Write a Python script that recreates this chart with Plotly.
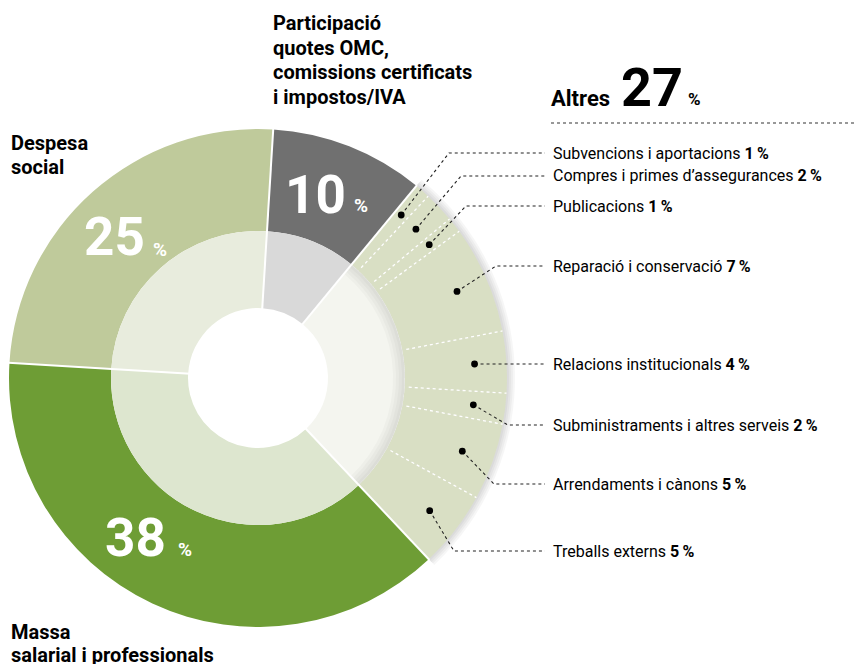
import numpy as np
import plotly.graph_objects as go

# ---------------- data ----------------
main_labels = ["Participació quotes OMC, comissions certificats i impostos/IVA",
               "Altres", "Massa salarial i professionals", "Despesa social"]
main_values = [10, 27, 38, 25]
altres_labels = ["Subvencions i aportacions", "Compres i primes d’assegurances",
                 "Publicacions", "Reparació i conservació", "Relacions institucionals",
                 "Subministraments i altres serveis", "Arrendaments i cànons",
                 "Treballs externs"]
altres_values = [1, 2, 1, 7, 4, 2, 5, 5]

# ---------------- layout / style ----------------
W, H = 854, 664
CX, CY = 258, 378
R_OUT, R_MID, R_HOLE = 249, 147, 70
R_DOT = 217
ROT = 3.5
FONT = "Roboto"

outer_colors = ["#707070", "#d9dfc4", "#6e9d35", "#bfca9b"]
inner_colors = ["#d9d9d9", "#f4f5ef", "#dde6cf", "#e8ecdd"]
CLEAR = "rgba(0,0,0,0)"

label_x = 551
label_y = [153, 176, 206, 266, 364, 425, 484, 551]
elbow_x = [449, 461, 466, 496, None, 508, 494, 454]
line_end_x = 545


def px(x):
    return x / W


def py(y):
    return 1 - y / H


def dom(r):
    return dict(x=[(CX - r) / W, (CX + r) / W], y=[1 - (CY + r) / H, 1 - (CY - r) / H])


def polar(angle_deg, r):
    a = np.deg2rad(angle_deg)
    return CX + r * np.sin(a), CY - r * np.cos(a)


def pie(values, colors, r, hole, name):
    return go.Pie(values=values, labels=[f"{name}{i}" for i in range(len(values))],
                  marker=dict(colors=colors, line=dict(width=0)),
                  domain=dom(r), hole=hole, sort=False, direction="clockwise",
                  rotation=ROT, textinfo="none", hoverinfo="skip", showlegend=False)


fig = go.Figure()

# shadow behind the "Altres" slice
for k, r in enumerate([257, 255, 253, 251]):
    cols = [CLEAR, "rgba(0,0,0,0.035)", CLEAR, CLEAR]
    fig.add_trace(pie(main_values, cols, r, R_MID / r, f"sh{k}_"))

# outer ring: main slices, Altres split into its items
outer_vals = [main_values[0]] + altres_values + main_values[2:]
outer_cols = [outer_colors[0]] + [outer_colors[1]] * len(altres_values) + outer_colors[2:]
fig.add_trace(pie(outer_vals, outer_cols, R_OUT, R_MID / R_OUT, "out"))

# inner ring
fig.add_trace(pie(main_values, inner_colors, R_MID, R_HOLE / R_MID, "in"))

# inner shadow on Altres inner part
for k, d in enumerate([3, 6, 9, 12]):
    cols = [CLEAR, "rgba(0,0,0,0.025)", CLEAR, CLEAR]
    fig.add_trace(pie(main_values, cols, R_MID, (R_MID - d) / R_MID, f"ish{k}_"))

shapes = []
total = sum(main_values)
# main separators (solid white)
cum = np.concatenate([[0], np.cumsum(main_values)[:-1]])
for c in cum:
    ang = ROT + 360 * c / total
    x0, y0 = polar(ang, R_HOLE - 2)
    x1, y1 = polar(ang, R_OUT + 1)
    shapes.append(dict(type="line", xref="paper", yref="paper", x0=px(x0), y0=py(y0),
                       x1=px(x1), y1=py(y1), line=dict(color="white", width=2)))

# Altres sub separators (dotted white)
start_altres = main_values[0]
sub_cum = start_altres + np.cumsum(altres_values)
for c in sub_cum[:-1]:
    ang = ROT + 360 * c / total
    x0, y0 = polar(ang, R_MID + 4)
    x1, y1 = polar(ang, R_OUT)
    shapes.append(dict(type="line", xref="paper", yref="paper", x0=px(x0), y0=py(y0),
                       x1=px(x1), y1=py(y1), line=dict(color="white", width=1.3, dash="dot")))

# dots + leader lines
sub_start = start_altres + np.concatenate([[0], np.cumsum(altres_values)[:-1]])
for i, (s, v) in enumerate(zip(sub_start, altres_values)):
    mid = ROT + 360 * (s + v / 2) / total
    dx, dy = polar(mid, R_DOT)
    ly = label_y[i]
    if elbow_x[i] is None:
        path = f"M{px(dx)},{py(dy)} L{px(line_end_x)},{py(ly)}"
    else:
        path = (f"M{px(dx)},{py(dy)} L{px(elbow_x[i])},{py(ly)} "
                f"L{px(line_end_x)},{py(ly)}")
    shapes.append(dict(type="path", xref="paper", yref="paper", path=path,
                       line=dict(color="#222", width=1.1, dash="dot")))
    rr = 3.4
    shapes.append(dict(type="circle", xref="paper", yref="paper",
                       x0=px(dx - rr), x1=px(dx + rr), y0=py(dy - rr), y1=py(dy + rr),
                       fillcolor="black", line=dict(width=0)))

# dotted rule under "Altres"
shapes.append(dict(type="line", xref="paper", yref="paper", x0=px(551), x1=px(854),
                   y0=py(123), y1=py(123), line=dict(color="#333", width=1.1, dash="dot")))

ann = []


def text(x, y, s, size, color="black", bold=False, xanchor="left", yanchor="middle"):
    ann.append(dict(x=px(x), y=py(y), xref="paper", yref="paper", text=(f"<b>{s}</b>" if bold else s),
                    showarrow=False, xanchor=xanchor, yanchor=yanchor,
                    font=dict(family=FONT, size=size, color=color)))


# big percentages in ring
text(283, 195, f"{main_values[0]}", 53, "white", True)
text(352, 205, "%", 19, "white", True)
text(82, 237, f"{main_values[3]}", 53, "white", True)
text(151, 249, "%", 19, "white", True)
text(103, 538, f"{main_values[2]}", 53, "white", True)
text(176, 549, "%", 19, "white", True)

# category titles
for yy, s in zip([23, 48, 72, 97], ["Participació", "quotes OMC,", "comissions certificats", "i impostos/IVA"]):
    text(271, yy, s, 20, bold=True)
for yy, s in zip([143, 167], ["Despesa", "social"]):
    text(9, yy, s, 20, bold=True)
for yy, s in zip([632, 655], ["Massa", "salarial i professionals"]):
    text(9, yy, s, 20, bold=True)

# Altres header
text(549, 98, main_labels[1], 22, bold=True)
text(619, 88, f"{main_values[1]}", 54, bold=True)
text(686, 99, "%", 17, bold=True)

# Altres items
for i, (lab, v) in enumerate(zip(altres_labels, altres_values)):
    text(label_x, label_y[i], f"{lab} <b>{v}\u2009%</b>", 16)

fig.update_layout(width=W, height=H, margin=dict(l=0, r=0, t=0, b=0),
                  paper_bgcolor="white", plot_bgcolor="white",
                  shapes=shapes, annotations=ann,
                  xaxis=dict(visible=False), yaxis=dict(visible=False))
fig.write_html("out.html", config={"displayModeBar": False, "staticPlot": True},
               post_script="document.body.style.margin='0px';document.body.style.overflow='hidden';")
